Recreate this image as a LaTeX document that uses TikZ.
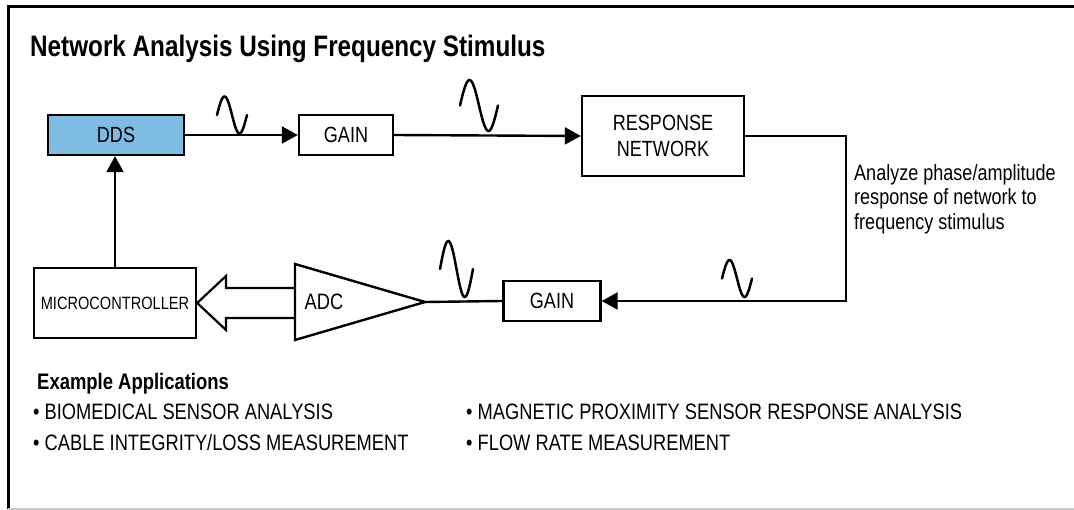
\documentclass[tikz,border=0pt]{standalone}
\usepackage{fontspec}
\setmainfont{Liberation Sans}[FakeStretch=0.82]
\usetikzlibrary{arrows.meta,calc}
\definecolor{ddsblue}{RGB}{126,188,226}
\definecolor{framegray}{RGB}{200,200,200}

\tikzset{
	blk/.style={draw, line width=2.4pt, inner sep=0pt, align=center,
		font=\fontsize{22}{26}\selectfont},
	conn/.style={line width=2.4pt},
	arr/.style={conn, -{Triangle[length=16pt,width=17pt]}},
	wave/.style={line width=2.5pt, line cap=round},
	txt/.style={inner sep=0pt, font=\fontsize{22.3}{24.5}\selectfont}
}

\begin{document}
\begin{tikzpicture}[x=1pt,y=-1pt]
		\useasboundingbox (0,0) rectangle (1074,510);
		% frame
		\draw[line width=3pt] (1074,7) -- (8,7) -- (8,509);
		\draw[line width=2pt, framegray] (8,509) -- (1074,509);
		\node[anchor=base west, inner sep=0pt, font=\fontsize{29.6}{32}\selectfont\bfseries] (title) at (30,57) {Network Analysis Using Frequency Stimulus};
		% blocks
		\node[blk, fill=ddsblue, minimum width=136pt, minimum height=40pt] (dds) at (116,135) {DDS};
		\node[blk, minimum width=94pt, minimum height=40pt] (gaina) at (346,135) {GAIN};
		\node[blk, minimum width=162pt, minimum height=80pt] (resp) at (663,136) {RESPONSE\\NETWORK};
		\node[blk, minimum width=97pt, minimum height=40pt] (gainb) at (552,301) {GAIN};
		\node[blk, minimum width=162pt, minimum height=70pt, font=\fontsize{17.8}{20}\selectfont] (mcu) at (115,303) {MICROCONTROLLER};
		% ADC
		\coordinate (adctop) at (295,264);
		\coordinate (adcbot) at (295,340);
		\coordinate (adc) at (425,302);
		\draw[conn, line join=miter] (adctop) -- (adc) -- (adcbot) -- cycle;
		\node[txt] (adclbl) at (324,302) {ADC};
		% connectors
		\coordinate (rx) at (846,0);
		\draw[arr] (dds.east) -- (gaina.west);
		\draw[arr] (gaina.east) -- (resp.west);
		\draw[arr] (resp.east) -| (rx |- gainb.east) -- (gainb.east);
		\draw[conn] (adc) -- (gainb.west);
		\draw[arr] (mcu.north) -- (mcu.north |- dds.south);
		\draw[line width=2.2pt, line join=miter] (adctop |- 0,288) -- (226,288) -- (226,276) -- (mcu.east) -- (226,330) -- (226,318) -- (adctop |- 0,318);
		% waves
		\draw[wave] plot[domain=0:360, samples=40] ({217+30*\x/360}, {115-18.5*sin(\x)});
		\draw[wave] plot[domain=0:360, samples=40] ({460+38*\x/360}, {105.5-25.5*sin(\x)});
		\draw[wave] plot[domain=0:360, samples=40] ({440+33*\x/360}, {269-28*sin(\x)});
		\draw[wave] plot[domain=0:360, samples=40] ({722+30*\x/360}, {278.5-18.5*sin(\x)});
		% notes
		\node[txt, anchor=north west, align=left, font=\fontsize{22}{24.5}\selectfont] (note) at (854,164) {Analyze phase/amplitude\\response of network to\\frequency stimulus};
		\node[anchor=base west, inner sep=0pt, font=\fontsize{22.5}{26}\selectfont\bfseries] (apps) at (37,390) {Example Applications};
		\node[txt, anchor=base west] (appa) at (33,420) {• BIOMEDICAL SENSOR ANALYSIS};
		\node[txt, anchor=base west] (appb) at (33,450) {• CABLE INTEGRITY/LOSS MEASUREMENT};
		\node[txt, anchor=base west] (appc) at (466,420) {• MAGNETIC PROXIMITY SENSOR RESPONSE ANALYSIS};
		\node[txt, anchor=base west] (appd) at (466,450) {• FLOW RATE MEASUREMENT};
\end{tikzpicture}
\end{document}
